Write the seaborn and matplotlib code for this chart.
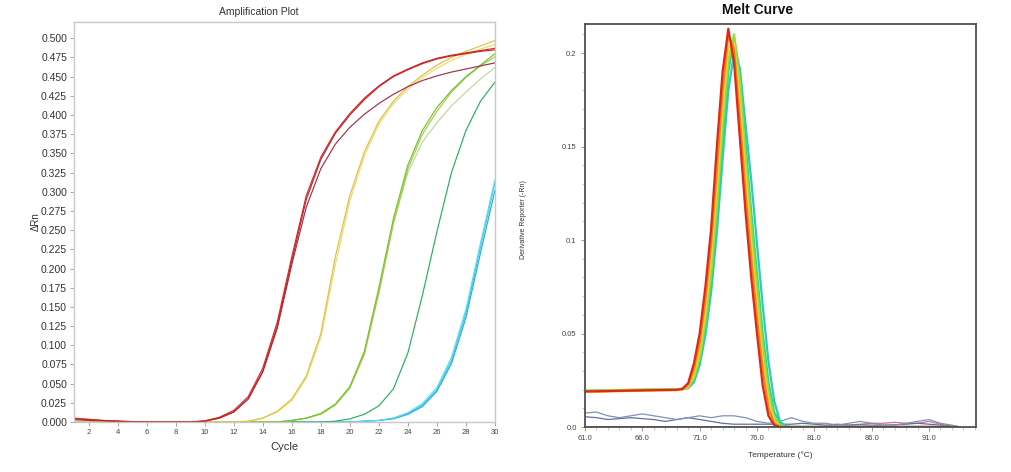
import matplotlib
matplotlib.use("Agg")
import matplotlib.pyplot as plt
from matplotlib.ticker import MultipleLocator
import seaborn as sns
import pandas as pd

# %% Amplification data (delta Rn per cycle)
cycles = list(range(1, 31))

red_a = [0.004, 0.003, 0.002, 0.001, 0.0005, 0, 0, 0, 0, 0.001,
         0.005, 0.013, 0.030, 0.066, 0.125, 0.210, 0.290, 0.342, 0.376, 0.400,
         0.420, 0.437, 0.450, 0.459, 0.467, 0.473, 0.477, 0.480, 0.483, 0.485]
red_b = [0.005, 0.0035, 0.002, 0.001, 0.0005, 0, 0, 0, 0, 0.0015,
         0.006, 0.015, 0.033, 0.070, 0.130, 0.215, 0.295, 0.345, 0.378, 0.402,
         0.422, 0.438, 0.451, 0.460, 0.468, 0.474, 0.478, 0.481, 0.484, 0.487]
red_c = [0.003, 0.002, 0.0015, 0.001, 0, 0, 0, 0, 0, 0.001,
         0.005, 0.013, 0.030, 0.065, 0.122, 0.205, 0.280, 0.330, 0.362, 0.384,
         0.401, 0.415, 0.427, 0.437, 0.445, 0.451, 0.456, 0.460, 0.464, 0.468]
yellow_a = [0, 0, 0, 0, 0, 0, 0, 0, 0, 0,
            0, 0, 0.001, 0.005, 0.014, 0.030, 0.060, 0.115, 0.215, 0.295,
            0.352, 0.392, 0.418, 0.437, 0.452, 0.465, 0.475, 0.483, 0.490, 0.497]
yellow_b = [0, 0, 0, 0, 0, 0, 0, 0, 0, 0,
            0, 0, 0.001, 0.005, 0.013, 0.028, 0.057, 0.110, 0.205, 0.288,
            0.347, 0.388, 0.415, 0.434, 0.449, 0.461, 0.471, 0.479, 0.486, 0.492]
lgreen_a = [0, 0, 0, 0, 0, 0, 0, 0, 0, 0,
            0, 0, 0, 0, 0, 0.002, 0.005, 0.011, 0.023, 0.046,
            0.092, 0.175, 0.265, 0.335, 0.380, 0.410, 0.432, 0.450, 0.465, 0.480]
lgreen_b = [0, 0, 0, 0, 0, 0, 0, 0, 0, 0,
            0, 0, 0, 0, 0, 0.002, 0.005, 0.010, 0.022, 0.044,
            0.088, 0.168, 0.258, 0.330, 0.375, 0.405, 0.430, 0.449, 0.464, 0.476]
pgreen = [0, 0, 0, 0, 0, 0, 0, 0, 0, 0,
          0, 0, 0, 0, 0, 0.002, 0.005, 0.011, 0.023, 0.045,
          0.090, 0.170, 0.260, 0.325, 0.365, 0.390, 0.412, 0.430, 0.447, 0.462]
green = [0, 0, 0, 0, 0, 0, 0, 0, 0, 0,
         0, 0, 0, 0, 0, 0, 0, 0, 0.001, 0.004,
         0.010, 0.021, 0.043, 0.090, 0.165, 0.248, 0.325, 0.380, 0.418, 0.443]
cyan_a = [0, 0, 0, 0, 0, 0, 0, 0, 0, 0,
          0, 0, 0, 0, 0, 0, 0, 0, 0, 0,
          0.001, 0.002, 0.005, 0.011, 0.022, 0.042, 0.080, 0.142, 0.228, 0.312]
cyan_b = [0, 0, 0, 0, 0, 0, 0, 0, 0, 0,
          0, 0, 0, 0, 0, 0, 0, 0, 0, 0,
          0.001, 0.002, 0.004, 0.010, 0.020, 0.040, 0.076, 0.136, 0.220, 0.302]
cyan_c = [0, 0, 0, 0, 0, 0, 0, 0, 0, 0,
          0, 0, 0, 0, 0, 0, 0, 0, 0, 0,
          0.001, 0.002, 0.005, 0.012, 0.024, 0.045, 0.084, 0.147, 0.233, 0.316]

amp_curves = [(cyan_a, '#38c8e8'), (cyan_b, '#20b0e0'), (cyan_c, '#60d8f0'),
              (green, '#28b060'), (pgreen, '#c0d898'), (lgreen_b, '#a0d040'),
              (lgreen_a, '#78c030'), (yellow_b, '#f0d870'),
              (yellow_a, '#e0c040'), (red_c, '#a03048'), (red_b, '#d03030'),
              (red_a, '#c82020')]

amp_yticks = [0.000, 0.025, 0.050, 0.075, 0.100, 0.125, 0.150, 0.175, 0.200,
              0.225, 0.250, 0.275, 0.300, 0.325, 0.350, 0.375, 0.400, 0.425,
              0.450, 0.475, 0.500]
amp_xticks = [2, 4, 6, 8, 10, 12, 14, 16, 18, 20, 22, 24, 26, 28, 30]

# %% Melt curve data (derivative reporter vs temperature)
melt_temp = [61, 63, 65, 67, 69, 69.5, 70, 70.5, 71, 71.5, 72, 72.5, 73,
             73.5, 74, 74.5, 75, 75.5, 76, 76.5, 77, 77.5, 78, 78.5, 79,
             82, 86, 90, 93.5]
melt_red = [0.0190, 0.0192, 0.0195, 0.0197, 0.0199, 0.0205, 0.0235, 0.034,
            0.050, 0.075, 0.106, 0.150, 0.190, 0.213, 0.195, 0.155, 0.115,
            0.080, 0.050, 0.022, 0.006, 0.001, 0, 0, 0, 0, 0, 0, 0]
melt_orange = [0.0192, 0.0193, 0.0195, 0.0197, 0.0198, 0.0202, 0.0225,
               0.031, 0.045, 0.068, 0.098, 0.138, 0.180, 0.210, 0.202, 0.165,
               0.125, 0.090, 0.058, 0.030, 0.010, 0.002, 0, 0, 0, 0, 0, 0, 0]
melt_yellow = [0.0188, 0.0190, 0.0193, 0.0196, 0.0198, 0.0200, 0.0215,
               0.028, 0.041, 0.062, 0.090, 0.128, 0.170, 0.203, 0.205, 0.175,
               0.135, 0.098, 0.065, 0.036, 0.014, 0.003, 0, 0, 0, 0, 0, 0, 0]
melt_lgreen = [0.0195, 0.0197, 0.0199, 0.0201, 0.0203, 0.0204, 0.0212,
               0.026, 0.037, 0.056, 0.082, 0.118, 0.160, 0.196, 0.210, 0.185,
               0.145, 0.108, 0.075, 0.044, 0.019, 0.005, 0.001, 0, 0, 0, 0,
               0, 0]
melt_green = [0.0193, 0.0196, 0.0198, 0.0200, 0.0202, 0.0203, 0.0210, 0.025,
              0.035, 0.053, 0.078, 0.112, 0.153, 0.190, 0.208, 0.190, 0.152,
              0.115, 0.082, 0.050, 0.024, 0.008, 0.002, 0, 0, 0, 0, 0, 0]
melt_cyan = [0.0190, 0.0193, 0.0196, 0.0199, 0.0201, 0.0202, 0.0207, 0.024,
             0.033, 0.049, 0.072, 0.104, 0.143, 0.180, 0.200, 0.192, 0.162,
             0.132, 0.098, 0.065, 0.035, 0.014, 0.003, 0.0005, 0, 0, 0, 0, 0]

melt_curves = [(melt_cyan, '#30c8c0'), (melt_green, '#30d880'),
               (melt_lgreen, '#90e040'), (melt_yellow, '#f0d030'),
               (melt_orange, '#f08020'), (melt_red, '#e02818')]

# Negative-control traces (near zero)
noise_temp = [61, 62, 63, 64, 65, 66, 67, 68, 69, 70, 71, 72, 73, 74, 75, 76,
              77, 78, 79, 80, 81, 82, 83, 84, 85, 86, 87, 88, 89, 90, 91, 92,
              93, 93.7]
noise_a = [0.0075, 0.008, 0.006, 0.005, 0.006, 0.007, 0.006, 0.005, 0.004,
           0.005, 0.006, 0.005, 0.006, 0.006, 0.005, 0.003, 0.002, 0.003,
           0.005, 0.003, 0.002, 0.002, 0.001, 0.002, 0.003, 0.002, 0.001,
           0.001, 0.002, 0.003, 0.004, 0.002, 0.001, 0]
noise_b = [0.0055, 0.005, 0.004, 0.0045, 0.005, 0.0045, 0.004, 0.003, 0.004,
           0.005, 0.004, 0.003, 0.002, 0.0015, 0.0015, 0.0015, 0.0015, 0.0015,
           0.0015, 0.002, 0.0015, 0.001, 0.0015, 0.001, 0.0012, 0.001, 0.001,
           0.0012, 0.0015, 0.002, 0.0015, 0.001, 0.0005, 0]
noise_c = [0, 0, 0, 0, 0, 0, 0, 0, 0, 0, 0, 0, 0, 0, 0, 0, 0, 0, 0, 0, 0,
           0.0005, 0.001, 0.001, 0.0015, 0.002, 0.002, 0.0025, 0.002, 0.002,
           0.003, 0.0015, 0.0005, 0]

melt_xticks = [61, 66, 71, 76, 81, 86, 91]
melt_yticks = [0.0, 0.05, 0.1, 0.15, 0.2]
melt_ylabels = ['0.0', '0.05', '0.1', '0.15', '0.2']

# %% Plot
sns.set_style("white")
plt.rcParams['font.family'] = ['Liberation Sans', 'DejaVu Sans']

fig = plt.figure(figsize=(10.11, 4.72), dpi=100)
ax1 = fig.add_axes([0.0732, 0.106, 0.4164, 0.847])
ax2 = fig.add_axes([0.5786, 0.0953, 0.3868, 0.8537])

for vals, col in amp_curves:
    df = pd.DataFrame({'Cycle': cycles, 'dRn': vals})
    sns.lineplot(data=df, x='Cycle', y='dRn', color=col, linewidth=0.85,
                 ax=ax1)

ax1.set_xlim(1, 30)
ax1.set_ylim(0, 0.521)
ax1.set_yticks(amp_yticks)
ax1.set_yticklabels(['%.3f' % v for v in amp_yticks], fontsize=7.5,
                    color='#333333')
ax1.set_xticks(amp_xticks)
ax1.set_xticklabels([str(v) for v in amp_xticks], fontsize=5.5,
                    color='#444444')
ax1.tick_params(axis='both', direction='out', length=3, width=0.6,
                color='#999999', pad=2, left=True, bottom=True)
for sp in ax1.spines.values():
    sp.set_color('#c8c8c8')
    sp.set_linewidth(1.0)
ax1.set_xlabel('Cycle', fontsize=8, color='#333333')
ax1.xaxis.set_label_coords(0.5, -0.05)
ax1.set_ylabel('\u0394Rn', fontsize=7, color='#333333')
ax1.yaxis.set_label_coords(-0.08, 0.5)
fig.text(259 / 1011, 1 - 12 / 472, 'Amplification Plot', fontsize=7.5,
         ha='center', va='center', color='#333333')

for vals, col in [(noise_c, '#d070a0'), (noise_b, '#6070a0'),
                  (noise_a, '#8090b8')]:
    df = pd.DataFrame({'Temp': noise_temp, 'Deriv': vals})
    sns.lineplot(data=df, x='Temp', y='Deriv', color=col, linewidth=0.9,
                 ax=ax2)
for vals, col in melt_curves:
    df = pd.DataFrame({'Temp': melt_temp, 'Deriv': vals})
    sns.lineplot(data=df, x='Temp', y='Deriv', color=col, linewidth=1.6,
                 ax=ax2)

ax2.set_xlim(61, 95.1)
ax2.set_ylim(0, 0.2155)
ax2.set_xticks(melt_xticks)
ax2.set_xticklabels(['%.1f' % v for v in melt_xticks], fontsize=5.5,
                    color='#444444')
ax2.xaxis.set_minor_locator(MultipleLocator(1))
ax2.set_yticks(melt_yticks)
ax2.set_yticklabels(melt_ylabels, fontsize=5.5, color='#444444')
ax2.yaxis.set_minor_locator(MultipleLocator(0.01))
ax2.tick_params(axis='both', which='major', direction='out', length=3,
                width=0.6, color='#888888', pad=3, left=True, bottom=True)
ax2.tick_params(axis='both', which='minor', direction='out', length=2,
                width=0.5, color='#aaaaaa', left=True, bottom=True)
for sp in ax2.spines.values():
    sp.set_color('#505050')
    sp.set_linewidth(1.3)
ax2.set_xlabel('Temperature (\u00b0C)', fontsize=6, color='#333333')
ax2.xaxis.set_label_coords(0.499, -0.06)
ax2.set_ylabel('Derivative Reporter (-Rn)', fontsize=5, color='#333333')
ax2.yaxis.set_label_coords(-0.148, 0.514)
fig.text(758 / 1011, 1 - 10 / 472, 'Melt Curve', fontsize=10,
         fontweight='bold', ha='center', va='center', color='#111111')

fig.savefig("out.png", dpi=100)
